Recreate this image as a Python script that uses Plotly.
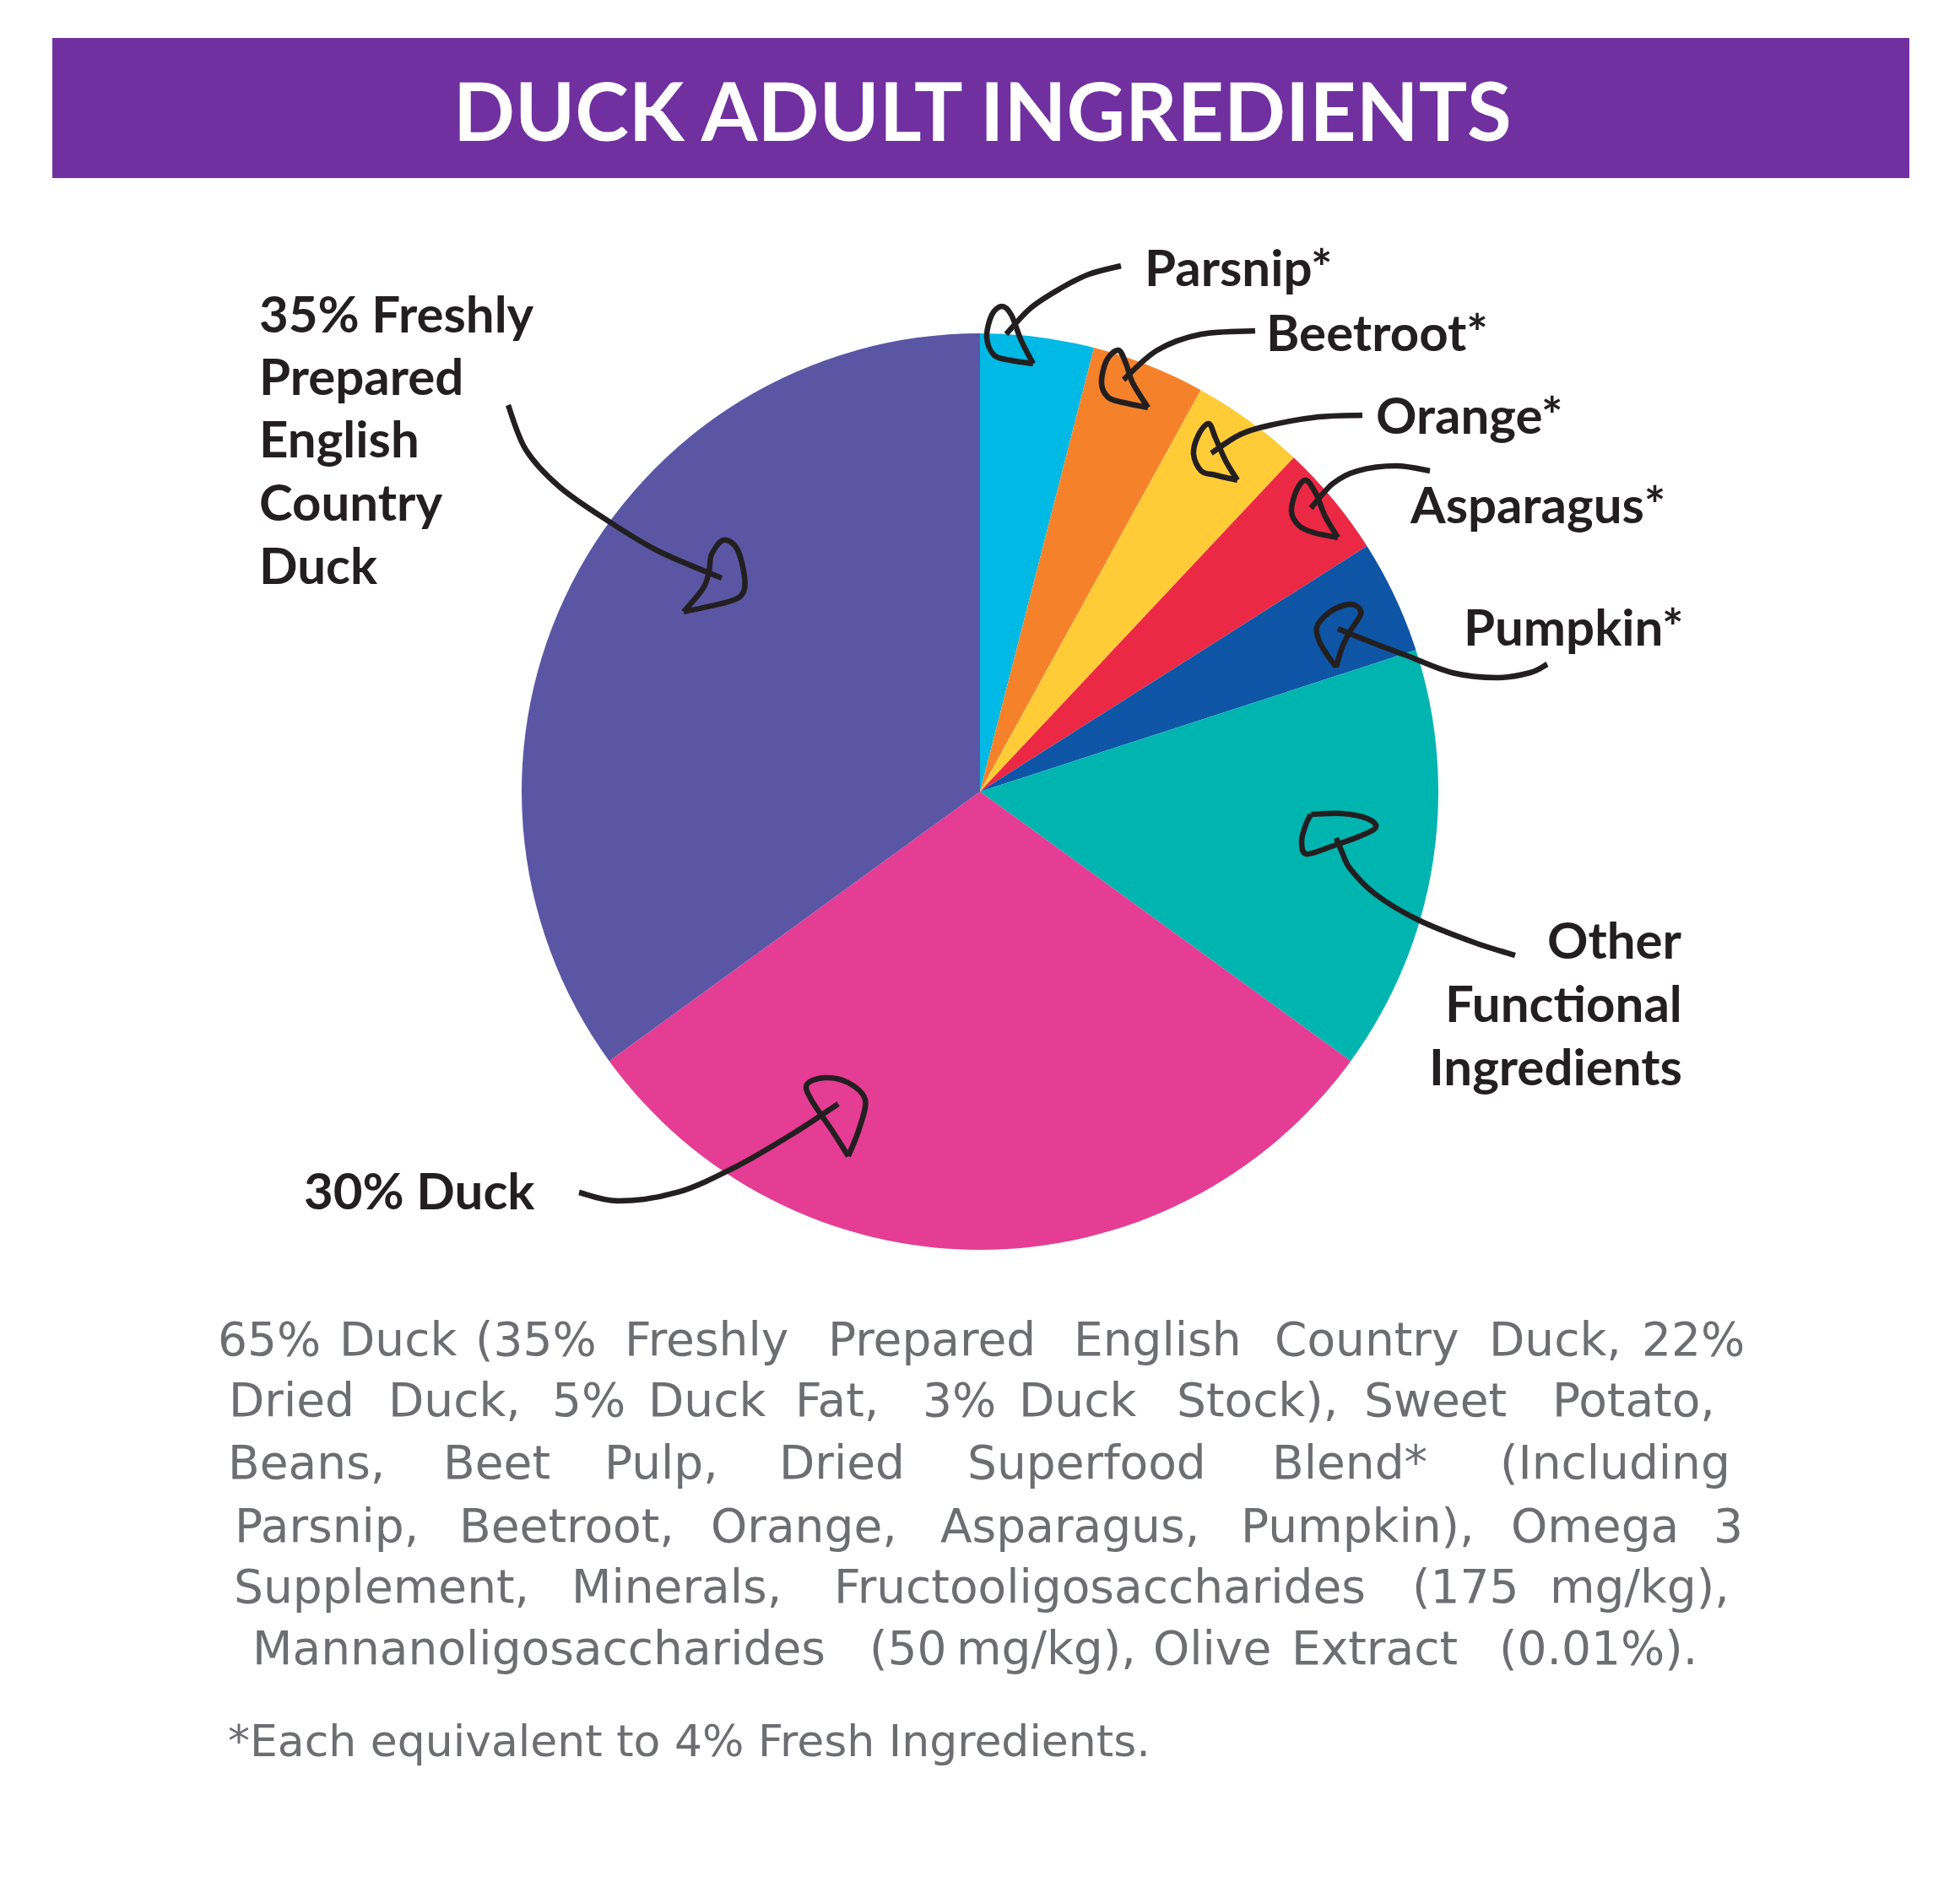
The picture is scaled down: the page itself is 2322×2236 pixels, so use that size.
import plotly.graph_objects as go

W, H = 2322, 2236          # reference picture size
M = 8                      # browser body margin

# ---------------- data ----------------
slice_labels = ["Parsnip*", "Beetroot*", "Orange*", "Asparagus*", "Pumpkin*",
                "Other Functional Ingredients", "30% Duck",
                "35% Freshly Prepared English Country Duck"]
slice_values = [4, 4, 4, 4, 4, 15, 30, 35]
slice_colors = ["#00B9E4", "#F5822A", "#FFCC38", "#EC2944", "#0E55A6",
                "#00B4AF", "#E43D93", "#5B56A4"]

title_text = "DUCK ADULT INGREDIENTS"

body_lines = [
    ["65%", "Duck", "(35%", "Freshly", "Prepared", "English", "Country", "Duck,", "22%"],
    ["Dried", "Duck,", "5%", "Duck", "Fat,", "3%", "Duck", "Stock),", "Sweet", "Potato,"],
    ["Beans,", "Beet", "Pulp,", "Dried", "Superfood", "Blend*", "(Including"],
    ["Parsnip,", "Beetroot,", "Orange,", "Asparagus,", "Pumpkin),", "Omega", "3"],
    ["Supplement,", "Minerals,", "Fructooligosaccharides", "(175", "mg/kg),"],
    ["Mannanoligosaccharides", "(50", "mg/kg),", "Olive", "Extract", "(0.01%)."],
]
footnote = "*Each equivalent to 4% Fresh Ingredients."

# ---------------- layout helpers (pixel positions) ----------------
FW, FH = W - 2 * M, H - 2 * M


def px(x):
    return (x - M) / FW


def py(y):
    return 1 - (y - M) / FH


# word extents (left, right) in pixels for each body line
word_spans = [
    [(268, 369), (402, 541), (570, 701), (736, 938), (973, 1234), (1270, 1472), (1507, 1732), (1762, 1922), (1952, 2059)],
    [(268, 422), (458, 618), (659, 736), (766, 908), (944, 1039), (1098, 1175), (1205, 1347), (1383, 1596), (1626, 1774), (1811, 2059)],
    [(268, 458), (523, 653), (713, 855), (920, 1074), (1139, 1436), (1501, 1697), (1768, 2059)],
    [(268, 505), (535, 807), (837, 1068), (1098, 1436), (1460, 1756), (1786, 1993), (2035, 2059)],
    [(268, 635), (665, 938), (962, 1644), (1667, 1804), (1827, 2059)],
    [(268, 1009), (1033, 1117), (1140, 1339), (1368, 1503), (1530, 1727), (1757, 2029)],
]
body_baselines = [1607, 1679, 1753, 1828, 1900, 1973]

fig = go.Figure()

cx, cy, R = 1161, 938, 543
fig.add_trace(go.Pie(
    labels=slice_labels, values=slice_values, sort=False, direction="clockwise",
    rotation=0, textinfo="none", hoverinfo="skip", showlegend=False,
    marker=dict(colors=slice_colors, line=dict(width=0)),
    domain=dict(x=[px(cx - R), px(cx + R)], y=[py(cy + R), py(cy - R)]),
))

shapes = []
annotations = []

# title bar
shapes.append(dict(type="rect", xref="paper", yref="paper",
                   x0=px(62), x1=px(2262), y0=py(211), y1=py(45),
                   fillcolor="#7030A0", line=dict(width=0), layer="below"))
annotations.append(dict(text="<b>" + title_text + "</b>", xref="paper", yref="paper",
                        x=px(1164), y=py(130), xanchor="center", yanchor="middle",
                        showarrow=False,
                        font=dict(family="Lato", size=96, color="white", weight=900)))


def smooth_path(pts):
    """Catmull-Rom through points -> cubic bezier SVG path in paper coords."""
    p = [(px(x), py(y)) for x, y in pts]
    ext = [p[0]] + p + [p[-1]]
    d = "M %.5f,%.5f" % p[0]
    for i in range(1, len(ext) - 2):
        p0, p1, p2, p3 = ext[i - 1], ext[i], ext[i + 1], ext[i + 2]
        c1 = (p1[0] + (p2[0] - p0[0]) / 6, p1[1] + (p2[1] - p0[1]) / 6)
        c2 = (p2[0] - (p3[0] - p1[0]) / 6, p2[1] - (p3[1] - p1[1]) / 6)
        d += " C %.5f,%.5f %.5f,%.5f %.5f,%.5f" % (c1[0], c1[1], c2[0], c2[1], p2[0], p2[1])
    return d


arrows = [
    # shaft, head loop
    ([(602, 480), (623, 533), (663, 577), (720, 617), (780, 653), (855, 685)],
     [(810, 725), (833, 697), (840, 677), (843, 657), (857, 640), (873, 650), (882, 683),
      (880, 703), (863, 713), (810, 725)]),
    ([(1328, 315), (1290, 325), (1256, 342), (1221, 365), (1192, 396)],
     [(1224, 431), (1210, 404), (1198, 373), (1187, 363), (1175, 373), (1169, 400),
      (1178, 421), (1198, 427), (1224, 431)]),
    ([(1487, 392), (1423, 396), (1371, 415), (1331, 450)],
     [(1360, 483), (1342, 454), (1334, 431), (1325, 415), (1311, 427), (1305, 454),
      (1313, 471), (1331, 477), (1360, 483)]),
    ([(1614, 492), (1562, 494), (1504, 504), (1469, 515), (1435, 537)],
     [(1466, 569), (1452, 546), (1440, 519), (1432, 502), (1420, 515), (1414, 538),
      (1423, 558), (1440, 563), (1466, 569)]),
    ([(1694, 558), (1654, 552), (1608, 558), (1579, 573), (1553, 602)],
     [(1585, 637), (1570, 612), (1559, 585), (1547, 569), (1536, 581), (1530, 606),
      (1539, 623), (1556, 631), (1585, 637)]),
    ([(1833, 787), (1813, 797), (1773, 803), (1720, 797), (1667, 777), (1627, 762), (1585, 745)],
     [(1583, 790), (1590, 767), (1600, 747), (1612, 728), (1607, 718), (1593, 717),
      (1573, 727), (1560, 743), (1563, 760), (1573, 777), (1583, 790)]),
    ([(1795, 1132), (1747, 1117), (1680, 1090), (1630, 1060), (1600, 1030), (1590, 1010), (1583, 993)],
     [(1553, 965), (1590, 964), (1620, 970), (1630, 980), (1613, 990), (1580, 1002),
      (1548, 1012), (1542, 997), (1547, 977), (1553, 965)]),
    ([(686, 1413), (732, 1423), (802, 1413), (871, 1383), (940, 1343), (993, 1308)],
     [(1005, 1370), (986, 1340), (961, 1303), (956, 1285), (977, 1277), (1005, 1283),
      (1025, 1303), (1018, 1337), (1005, 1370)]),
]
for shaft, head in arrows:
    for pts in (shaft, head):
        shapes.append(dict(type="path", xref="paper", yref="paper", layer="above",
                           path=smooth_path(pts),
                           line=dict(color="#231F20", width=6.5)))

# slice labels (left x or right x, baseline y, anchor)
LBL = 60
label_font = dict(family="Lato", size=LBL, color="#231F20", weight=700)
label_lines = [
    ("35% Freshly", 305, 393, "left"),
    ("Prepared", 305, 467, "left"),
    ("English", 305, 541, "left"),
    ("Country", 305, 616, "left"),
    ("Duck", 305, 691, "left"),
    ("Parsnip*", 1354, 338, "left"),
    ("Beetroot*", 1498, 415, "left"),
    ("Orange*", 1628, 513, "left"),
    ("Asparagus*", 1668, 619, "left"),
    ("Pumpkin*", 1732, 764, "left"),
    ("Other", 1995, 1135, "right"),
    ("Functional", 1995, 1210, "right"),
    ("Ingredients", 1995, 1285, "right"),
    ("30% Duck", 358, 1432, "left"),
]
for txt, x, base, anc in label_lines:
    annotations.append(dict(text=txt, xref="paper", yref="paper", x=px(x),
                            y=py(base - 0.36 * LBL), xanchor=anc, yanchor="middle",
                            showarrow=False, font=label_font))

BODY = 55
body_font = dict(family="DejaVu Sans", size=BODY, color="#6D6E71")
for words, spans, base in zip(body_lines, word_spans, body_baselines):
    for w, (l, r) in zip(words, spans):
        annotations.append(dict(text=w, xref="paper", yref="paper", x=px((l + r) / 2),
                                y=py(base - 0.36 * BODY), xanchor="center", yanchor="middle",
                                showarrow=False, font=body_font))

FOOT = 52
annotations.append(dict(text=footnote, xref="paper", yref="paper", x=px(268),
                        y=py(2082 - 0.36 * FOOT), xanchor="left", yanchor="middle",
                        showarrow=False,
                        font=dict(family="DejaVu Sans", size=FOOT, color="#6D6E71")))

fig.update_layout(
    width=FW, height=FH, margin=dict(l=0, r=0, t=0, b=0),
    paper_bgcolor="white", plot_bgcolor="white",
    shapes=shapes, annotations=annotations, showlegend=False,
)

fig.write_html("out.html")
